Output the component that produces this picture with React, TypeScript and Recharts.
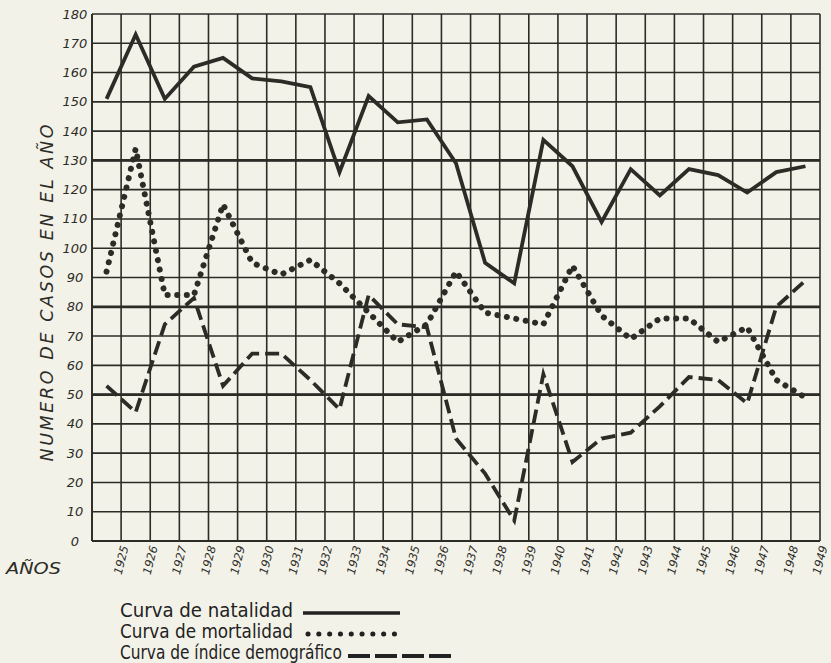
import React from "react";
import {
  LineChart,
  Line,
  XAxis,
  YAxis,
  CartesianGrid,
  ReferenceLine,
} from "recharts";

// años 1925 - 1949
const years = [
  "1925", "1926", "1927", "1928", "1929", "1930", "1931", "1932", "1933",
  "1934", "1935", "1936", "1937", "1938", "1939", "1940", "1941", "1942",
  "1943", "1944", "1945", "1946", "1947", "1948", "1949",
];

const natalidad = [
  151, 173, 151, 162, 165, 158, 157, 155, 126, 152, 143, 144, 129, 95, 88,
  137, 128, 109, 127, 118, 127, 125, 119, 126, 128,
];

const mortalidad = [
  92, 134, 84, 84, 115, 95, 91, 96, 88, 78, 68, 74, 92, 78, 76, 74, 94, 77,
  69, 76, 76, 68, 73, 55, 49,
];

const indice = [
  53, 44, 74, 83, 53, 64, 64, 55, 45, 84, 74, 73, 35, 23, 7, 57, 27, 35, 37,
  46, 56, 55, 47, 80, 89,
];

const yTicks = [0, 10, 20, 30, 40, 50, 60, 70, 80, 90, 100, 110, 120, 130, 140, 150, 160, 170, 180];
const heavyLines = [130, 80, 50];

const INK = "#2c2c27";
const PAPER = "#f3f2e9";
const HAND = "'DejaVu Sans', sans-serif";
const PRINT = "'Liberation Sans Narrow', 'DejaVu Sans Condensed', sans-serif";

// each year sits in the middle of its grid cell
const data = years.map((year, i) => ({
  x: i + 0.5,
  year,
  natalidad: natalidad[i],
  mortalidad: mortalidad[i],
  indice: indice[i],
}));

const xTicks = [0, ...years.map((_, i) => i + 1)];

const XTick = ({ x, y, payload }: any) => {
  if (payload.value === 0) return null;
  return (
    <text
      transform={`translate(${x},${y + 11}) rotate(-76)`}
      textAnchor="middle"
      dominantBaseline="central"
      fontFamily={HAND}
      fontStyle="italic"
      fontSize={11.5}
      fill={INK}
    >
      {years[payload.value - 1]}
    </text>
  );
};

const YTick = ({ x, y, payload }: any) => (
  <text
    x={x - 9}
    y={y}
    textAnchor="middle"
    dominantBaseline="central"
    fontFamily={HAND}
    fontStyle="italic"
    fontSize={13}
    fill={INK}
  >
    {payload.value}
  </text>
);

const Overlay = () => (
  <svg
    width={831}
    height={663}
    style={{ position: "absolute", left: 0, top: 0, pointerEvents: "none" }}
  >
    <text
      transform="translate(53,293) rotate(-90)"
      textAnchor="middle"
      fontFamily={HAND}
      fontStyle="italic"
      fontSize={17.5}
      fill={INK}
      textLength={337}
      lengthAdjust="spacing"
    >
      NUMERO DE CASOS EN EL AÑO
    </text>
    <text
      x={6}
      y={574}
      fontFamily={HAND}
      fontStyle="italic"
      fontSize={15}
      fill={INK}
      textLength={55}
      lengthAdjust="spacingAndGlyphs"
    >
      AÑOS
    </text>

    <g fontFamily={PRINT} fontSize={19} fill="#222">
      <text x={120} y={617} textLength={173} lengthAdjust="spacingAndGlyphs">
        Curva de natalidad
      </text>
      <text x={120} y={638} textLength={173} lengthAdjust="spacingAndGlyphs">
        Curva de mortalidad
      </text>
      <text x={120} y={659} textLength={222} lengthAdjust="spacingAndGlyphs">
        Curva de índice demográfico
      </text>
    </g>
    <line x1={303} y1={613} x2={400} y2={613} stroke="#222" strokeWidth={3.5} />
    <line
      x1={308}
      y1={634}
      x2={405}
      y2={634}
      stroke="#222"
      strokeWidth={5}
      strokeLinecap="round"
      strokeDasharray="0.1 10.7"
    />
    <line
      x1={348}
      y1={656}
      x2={452}
      y2={656}
      stroke="#222"
      strokeWidth={4}
      strokeDasharray="22 5"
    />
  </svg>
);

export default function App() {
  return (
    <div
      style={{
        position: "absolute",
        left: 0,
        top: 0,
        width: 831,
        height: 663,
        background: PAPER,
      }}
    >
      <LineChart
        width={831}
        height={663}
        data={data}
        margin={{ top: 14, right: 11, bottom: 82, left: 52 }}
      >
        <CartesianGrid stroke={INK} strokeWidth={1.6} />
        <XAxis
          type="number"
          dataKey="x"
          domain={[0, 25]}
          ticks={xTicks}
          interval={0}
          tick={<XTick />}
          tickLine={false}
          axisLine={{ stroke: INK, strokeWidth: 1.8 }}
          height={40}
        />
        <YAxis
          type="number"
          domain={[0, 180]}
          ticks={yTicks}
          interval={0}
          tick={<YTick />}
          tickLine={false}
          axisLine={{ stroke: INK, strokeWidth: 1.8 }}
          width={40}
        />
        {heavyLines.map((v) => (
          <ReferenceLine key={v} y={v} stroke={INK} strokeWidth={2.8} />
        ))}
        <Line
          type="linear"
          dataKey="natalidad"
          stroke={INK}
          strokeWidth={3.8}
          strokeLinejoin="miter"
          dot={false}
          isAnimationActive={false}
        />
        <Line
          type="linear"
          dataKey="mortalidad"
          stroke={INK}
          strokeWidth={6}
          strokeLinecap="round"
          strokeDasharray="0.1 9.5"
          dot={false}
          isAnimationActive={false}
        />
        <Line
          type="linear"
          dataKey="indice"
          stroke={INK}
          strokeWidth={3.8}
          strokeDasharray="14 6"
          dot={false}
          isAnimationActive={false}
        />
      </LineChart>
      <Overlay />
    </div>
  );
}
